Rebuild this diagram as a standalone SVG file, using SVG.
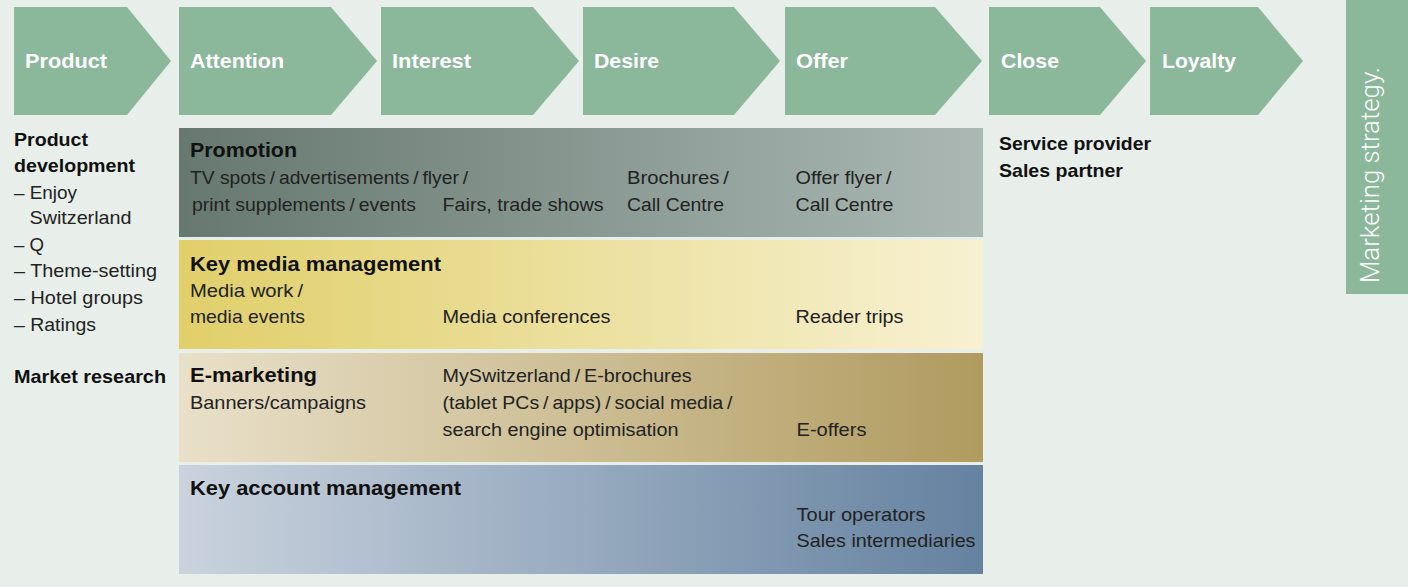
<svg xmlns="http://www.w3.org/2000/svg" width="1408" height="587" viewBox="0 0 1408 587">
<defs>
<style>
.chev{fill:#8bb79b}
.cl{font-family:"Liberation Sans",Arial,sans-serif;font-weight:bold;font-size:20.5px;fill:#ffffff}
.h{font-family:"Liberation Sans",Arial,sans-serif;font-weight:bold;font-size:20px;fill:#111111}
.lh{font-family:"Liberation Sans",Arial,sans-serif;font-weight:bold;font-size:19px;fill:#111111}
.b{font-family:"Liberation Sans",Arial,sans-serif;font-size:18.5px;fill:#222222}
.ms{font-family:Roboto,"Liberation Sans",Arial,sans-serif;font-weight:300;font-size:26px;fill:#ffffff}
</style>
<linearGradient id="gProm" x1="0" y1="0" x2="1" y2="0">
<stop offset="0" stop-color="#66786f"/>
<stop offset="1" stop-color="#abb8b4"/>
</linearGradient>
<linearGradient id="gMedia" x1="0" y1="0" x2="1" y2="0">
<stop offset="0" stop-color="#e0cf6a"/>
<stop offset="1" stop-color="#f7f1d2"/>
</linearGradient>
<linearGradient id="gEmk" x1="0" y1="0" x2="1" y2="0">
<stop offset="0" stop-color="#e9e0c9"/>
<stop offset="1" stop-color="#b09b5f"/>
</linearGradient>
<linearGradient id="gKam" x1="0" y1="0" x2="1" y2="0">
<stop offset="0" stop-color="#cad3de"/>
<stop offset="1" stop-color="#6582a0"/>
</linearGradient>
</defs>
<rect x="0" y="0" width="1408" height="587" fill="#e8eee9"/>

<g id="stage-product">
<polygon class="chev" points="14,7 127,7 171,61 127,115 14,115"/>
<text class="cl" x="25" y="68" textLength="82" lengthAdjust="spacingAndGlyphs">Product</text>
</g>
<g id="stage-attention">
<polygon class="chev" points="179,7 331,7 377,61 331,115 179,115"/>
<text class="cl" x="190" y="68" textLength="94" lengthAdjust="spacingAndGlyphs">Attention</text>
</g>
<g id="stage-interest">
<polygon class="chev" points="381,7 533,7 579,61 533,115 381,115"/>
<text class="cl" x="392" y="68" textLength="79" lengthAdjust="spacingAndGlyphs">Interest</text>
</g>
<g id="stage-desire">
<polygon class="chev" points="583,7 734,7 780,61 734,115 583,115"/>
<text class="cl" x="594" y="68" textLength="65" lengthAdjust="spacingAndGlyphs">Desire</text>
</g>
<g id="stage-offer">
<polygon class="chev" points="785,7 935,7 982,61 935,115 785,115"/>
<text class="cl" x="796" y="68" textLength="52" lengthAdjust="spacingAndGlyphs">Offer</text>
</g>
<g id="stage-close">
<polygon class="chev" points="989,7 1100,7 1146,61 1100,115 989,115"/>
<text class="cl" x="1001" y="68" textLength="58" lengthAdjust="spacingAndGlyphs">Close</text>
</g>
<g id="stage-loyalty">
<polygon class="chev" points="1150,7 1258,7 1303,61 1258,115 1150,115"/>
<text class="cl" x="1162" y="68" textLength="74" lengthAdjust="spacingAndGlyphs">Loyalty</text>
</g>

<g id="marketing-strategy">
<rect x="1346" y="0" width="62" height="294" class="chev"/>
<text class="ms" transform="translate(1379,283) rotate(-90)" x="0" y="0" textLength="216" lengthAdjust="spacingAndGlyphs">Marketing strategy.</text>
</g>

<g id="product-column">
<text class="lh" x="14" y="146" textLength="74" lengthAdjust="spacingAndGlyphs">Product</text>
<text class="lh" x="14" y="172" textLength="121" lengthAdjust="spacingAndGlyphs">development</text>
<text class="b" x="14" y="199" textLength="63" lengthAdjust="spacingAndGlyphs">– Enjoy</text>
<text class="b" x="29.5" y="224" textLength="102" lengthAdjust="spacingAndGlyphs">Switzerland</text>
<text class="b" x="14" y="251" textLength="30" lengthAdjust="spacingAndGlyphs">– Q</text>
<text class="b" x="14" y="277" textLength="143" lengthAdjust="spacingAndGlyphs">– Theme-setting</text>
<text class="b" x="14" y="304" textLength="129" lengthAdjust="spacingAndGlyphs">– Hotel groups</text>
<text class="b" x="14" y="331" textLength="82" lengthAdjust="spacingAndGlyphs">– Ratings</text>
<text class="lh" x="14" y="383" textLength="152" lengthAdjust="spacingAndGlyphs">Market research</text>
</g>

<g id="partners-column">
<text class="lh" x="999" y="150" textLength="152" lengthAdjust="spacingAndGlyphs">Service provider</text>
<text class="lh" x="999" y="177" textLength="124" lengthAdjust="spacingAndGlyphs">Sales partner</text>
</g>

<g id="panel-promotion">
<rect x="179" y="128" width="804" height="109" fill="url(#gProm)"/>
<text class="h" x="190" y="157" textLength="107" lengthAdjust="spacingAndGlyphs">Promotion</text>
<text class="b" x="190" y="184" textLength="278" lengthAdjust="spacingAndGlyphs">TV spots&#8201;/&#8201;advertisements&#8201;/&#8201;flyer&#8201;/</text>
<text class="b" x="192" y="211" textLength="224" lengthAdjust="spacingAndGlyphs">print supplements&#8201;/&#8201;events</text>
<text class="b" x="442.5" y="211" textLength="161" lengthAdjust="spacingAndGlyphs">Fairs, trade shows</text>
<text class="b" x="627" y="184" textLength="102" lengthAdjust="spacingAndGlyphs">Brochures&#8201;/</text>
<text class="b" x="627" y="211" textLength="97" lengthAdjust="spacingAndGlyphs">Call Centre</text>
<text class="b" x="795.5" y="184" textLength="96" lengthAdjust="spacingAndGlyphs">Offer flyer&#8201;/</text>
<text class="b" x="795.5" y="211" textLength="98" lengthAdjust="spacingAndGlyphs">Call Centre</text>
</g>

<g id="panel-key-media">
<rect x="179" y="240" width="804" height="109" fill="url(#gMedia)"/>
<text class="h" x="190" y="271" textLength="251" lengthAdjust="spacingAndGlyphs">Key media management</text>
<text class="b" x="190" y="297" textLength="113" lengthAdjust="spacingAndGlyphs">Media work&#8201;/</text>
<text class="b" x="190" y="323" textLength="115" lengthAdjust="spacingAndGlyphs">media events</text>
<text class="b" x="442.5" y="323" textLength="168" lengthAdjust="spacingAndGlyphs">Media conferences</text>
<text class="b" x="795.5" y="323" textLength="108" lengthAdjust="spacingAndGlyphs">Reader trips</text>
</g>

<g id="panel-e-marketing">
<rect x="179" y="353" width="804" height="109" fill="url(#gEmk)"/>
<text class="h" x="190" y="382" textLength="127" lengthAdjust="spacingAndGlyphs">E-marketing</text>
<text class="b" x="190" y="409" textLength="176" lengthAdjust="spacingAndGlyphs">Banners/campaigns</text>
<text class="b" x="442.5" y="382" textLength="249" lengthAdjust="spacingAndGlyphs">MySwitzerland&#8201;/&#8201;E-brochures</text>
<text class="b" x="442.5" y="409" textLength="290" lengthAdjust="spacingAndGlyphs">(tablet PCs&#8201;/&#8201;apps)&#8201;/&#8201;social media&#8201;/</text>
<text class="b" x="442.5" y="436" textLength="236" lengthAdjust="spacingAndGlyphs">search engine optimisation</text>
<text class="b" x="796.5" y="436" textLength="70" lengthAdjust="spacingAndGlyphs">E-offers</text>
</g>

<g id="panel-key-account">
<rect x="179" y="465" width="804" height="109" fill="url(#gKam)"/>
<text class="h" x="190" y="495" textLength="271" lengthAdjust="spacingAndGlyphs">Key account management</text>
<text class="b" x="796.5" y="521" textLength="129" lengthAdjust="spacingAndGlyphs">Tour operators</text>
<text class="b" x="796.5" y="547" textLength="179" lengthAdjust="spacingAndGlyphs">Sales intermediaries</text>
</g>

<g id="connectors"></g>
</svg>
